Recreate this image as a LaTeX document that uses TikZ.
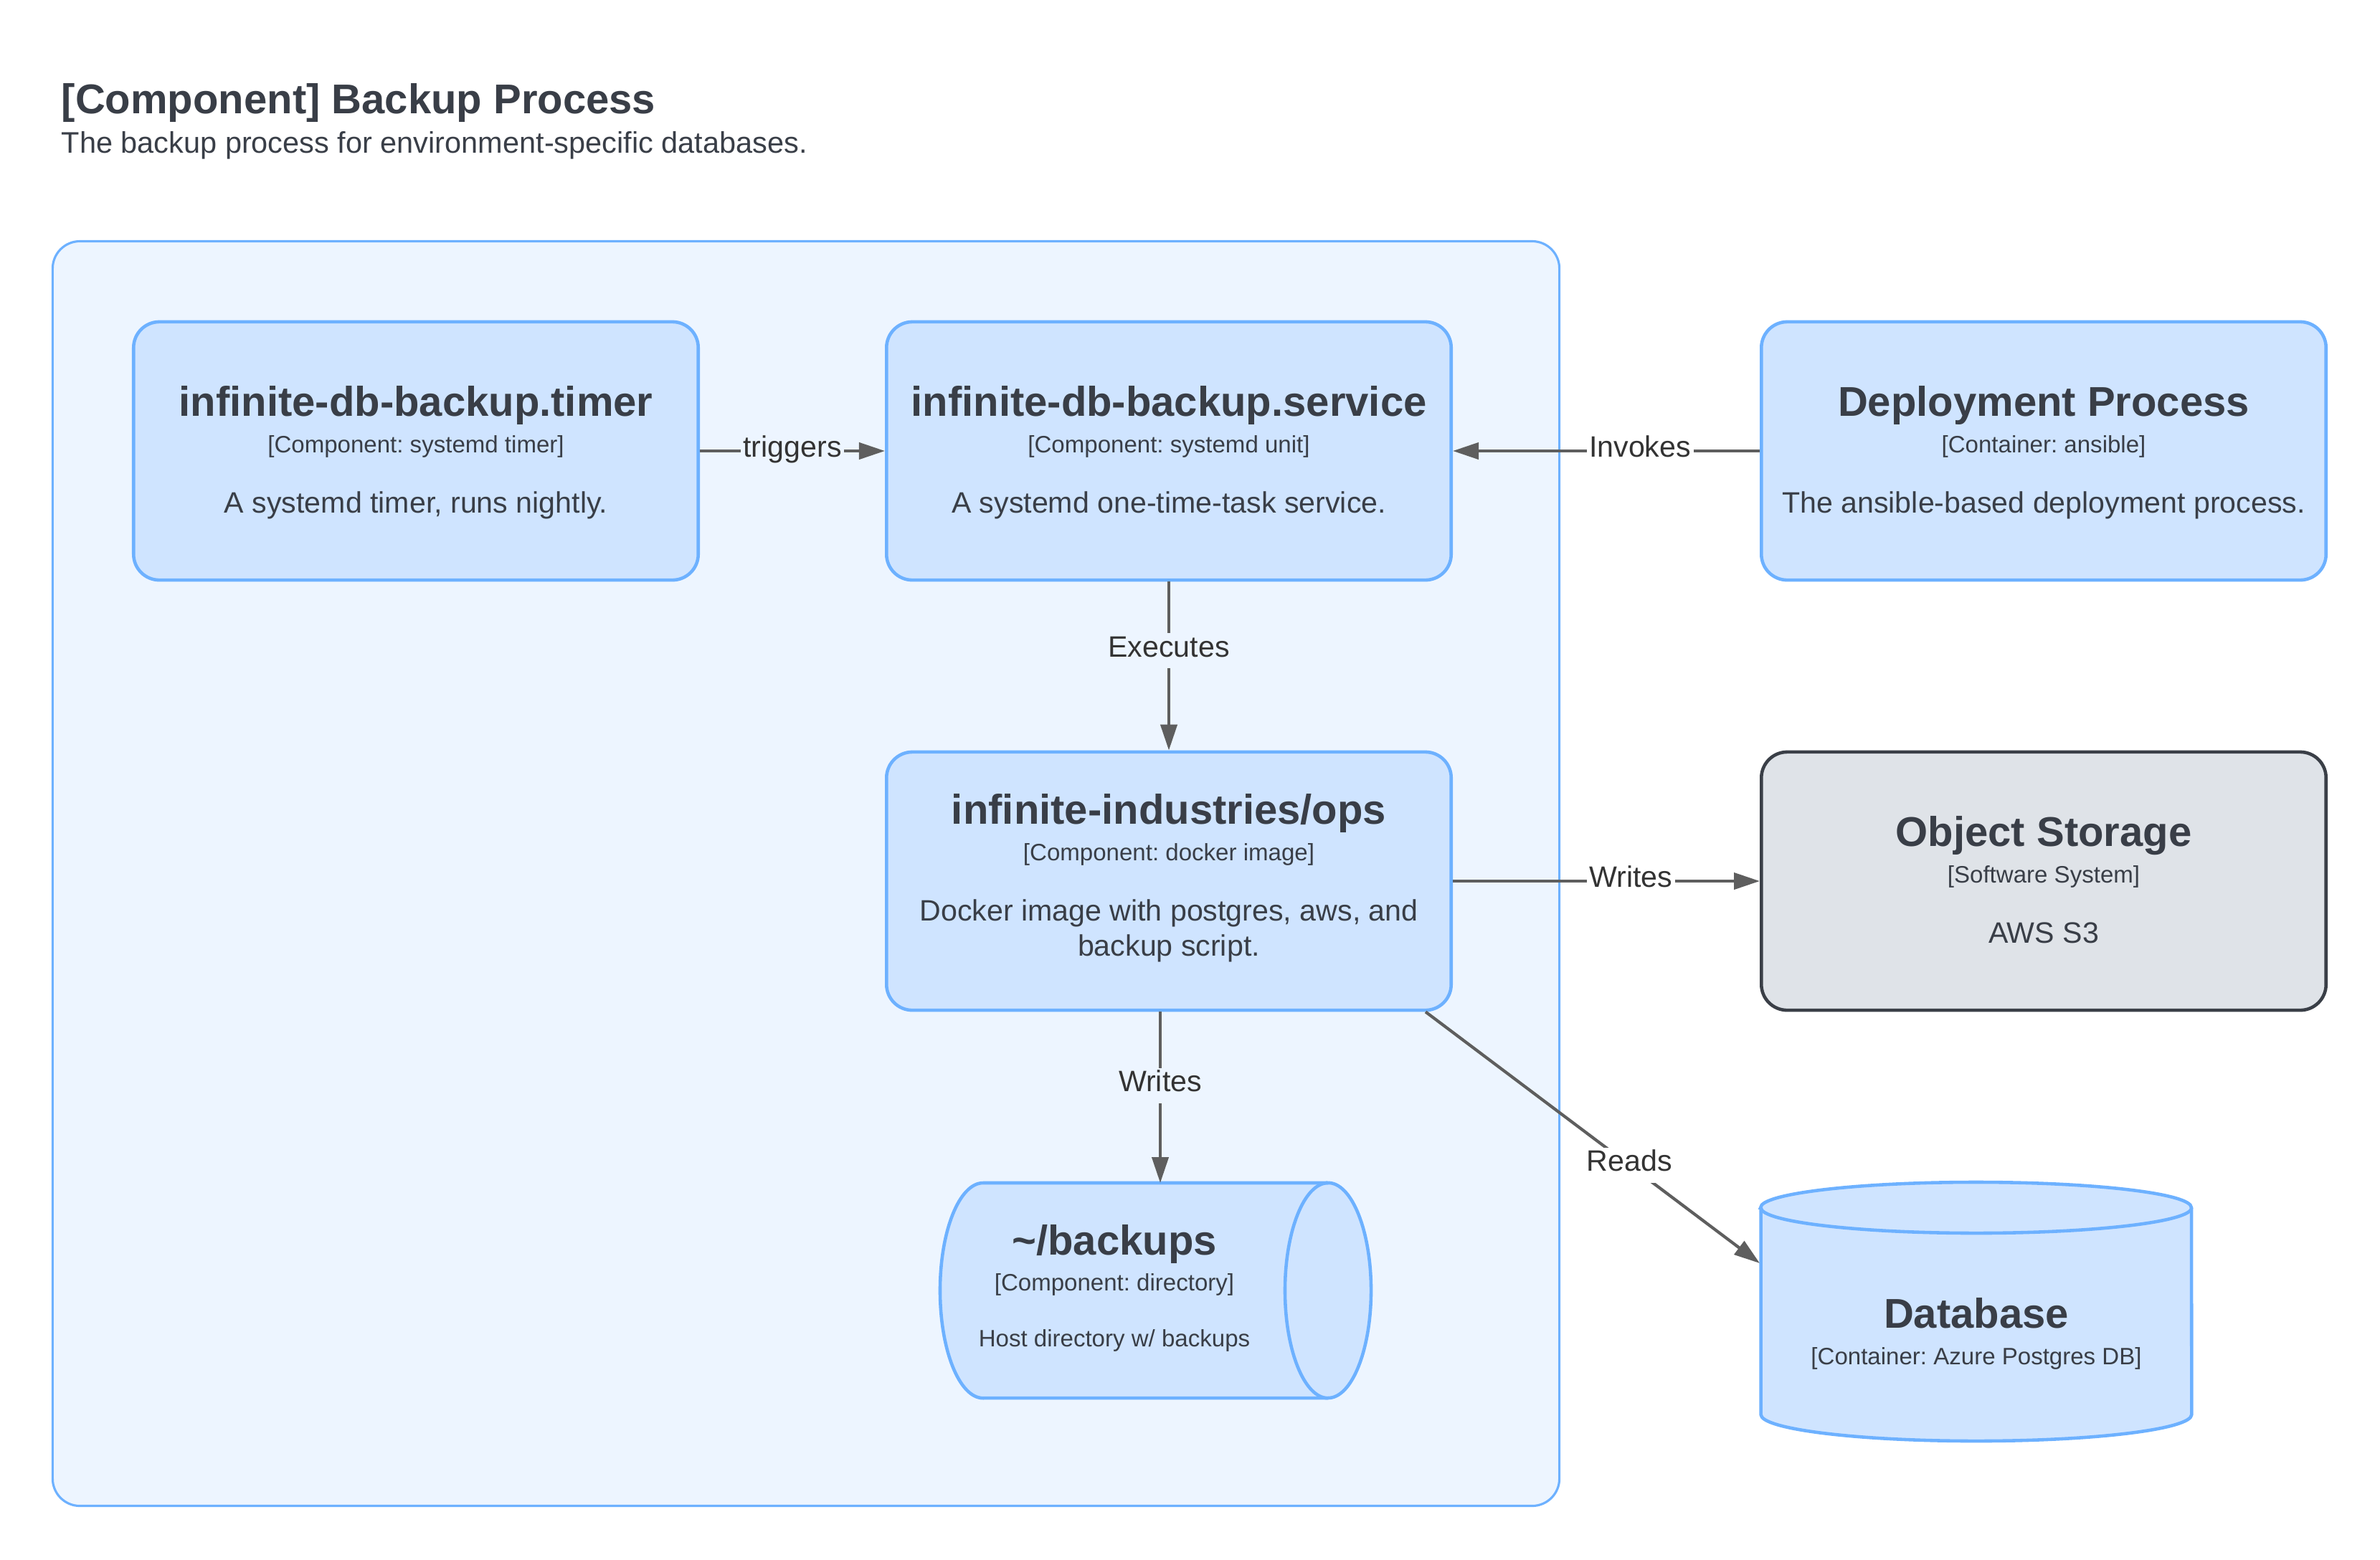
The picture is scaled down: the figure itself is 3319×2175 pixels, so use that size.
\documentclass[tikz,border=0pt]{standalone}
\usepackage{fontspec}
\setmainfont{Liberation Sans}
\usetikzlibrary{arrows.meta,calc}
\frenchspacing
\definecolor{c4text}{RGB}{57,62,71}
\definecolor{c4line}{RGB}{94,94,94}
\definecolor{c4fill}{RGB}{207,228,255}
\definecolor{c4draw}{RGB}{109,177,255}
\definecolor{c4bg}{RGB}{237,245,255}
\definecolor{sysfill}{RGB}{223,227,232}
\definecolor{sysdraw}{RGB}{58,63,71}
\definecolor{lbltext}{RGB}{51,51,51}
\tikzset{
  cbox/.style={rectangle,rounded corners=0.36cm,draw=c4draw,fill=c4fill,line width=1.3pt,minimum width=7.87cm,minimum height=3.6cm,inner sep=0pt},
  sbox/.style={cbox,draw=sysdraw,fill=sysfill},
  cname/.style={anchor=base,text=c4text,font=\fontsize{16.5pt}{19pt}\selectfont\bfseries,inner sep=0pt},
  ctech/.style={anchor=base,text=c4text,font=\fontsize{9.4pt}{11pt}\selectfont,inner sep=0pt},
  cdesc/.style={anchor=base,text=c4text,font=\fontsize{11.7pt}{13.8pt}\selectfont,align=center,inner sep=0pt},
  cyl/.style={draw=c4draw,fill=c4fill,line width=1.3pt},
  rel/.style={draw=c4line,line width=1.2pt,-{Triangle[length=0.36cm,width=0.23cm]}},
  lbl/.style={text=lbltext,font=\fontsize{11.7pt}{13.8pt}\selectfont,fill=c4bg,inner xsep=1pt,inner ysep=0pt,text height=0.33cm,text depth=0.16cm}
}
% box + name, technology and description (#1 = extra description lines)
\newcommand{\cnode}[8][0]{\node[#2] (#5) at (#3,#4) {};
  \node[cname] (#5-name) at (#3,#4-49-31*#1) {#6};
  \node[ctech] (#5-tech) at (#3,#4+2-31*#1) {#7};
  \node[cdesc] (#5-desc) at (#3,#4+86+18*#1) {#8};}

\begin{document}
\begin{tikzpicture}[x=0.01cm,y=-0.01cm]
	\useasboundingbox (0,0) rectangle (3319,2175);
	\node[anchor=base west,inner sep=0pt,text=c4text,font=\fontsize{16.5pt}{19pt}\selectfont\bfseries] (title) at (85,158) {[Component] Backup Process};
	\node[anchor=base west,inner sep=0pt,text=c4text,font=\fontsize{11.8pt}{14pt}\selectfont] (subtitle) at (85,213) {The backup process for environment-specific databases.};
	% system boundary
	\node[rectangle,rounded corners=0.38cm,draw=c4draw,fill=c4bg,line width=0.9pt,minimum width=21cm,minimum height=17.63cm,inner sep=0pt] (sys) at (1124,1218.5) {};
	\cnode{cbox}{580}{629}{timer}{infinite-db-backup.timer}{[Component: systemd timer]}{A systemd timer, runs nightly.}
	\cnode{cbox}{1630}{629}{service}{infinite-db-backup.service}{[Component: systemd unit]}{A systemd one-time-task service.}
	\cnode{cbox}{2850}{629}{deploy}{Deployment Process}{[Container: ansible]}{The ansible-based deployment process.}
	\cnode[1]{cbox}{1630}{1229}{ops}{infinite-industries/ops}{[Component: docker image]}{Docker image with postgres, aws, and\\backup script.}
	\cnode{sbox}{2850}{1229}{store}{Object Storage}{[Software System]}{AWS S3}
	% backups directory
	\path[cyl] (1852,1650) -- (1371,1650) arc[start angle=90,end angle=270,x radius=0.6cm,y radius=1.5cm] -- (1852,1950) arc[start angle=-90,end angle=90,x radius=0.6cm,y radius=1.5cm] -- cycle;
	\draw[cyl,fill=none] (1852,1650) arc[start angle=90,end angle=270,x radius=0.6cm,y radius=1.5cm];
	\node[cname] (bkp-name) at (1554,1750) {\textasciitilde/backups};
	\node[ctech] (bkp-tech) at (1554,1800) {[Component: directory]};
	\node[ctech] (bkp-desc) at (1554,1878) {Host directory w/ backups};
	\coordinate (bkp-in) at (1618,1650);
	% database
	\path[cyl] (2455.5,1684.5) -- (2455.5,1973) arc[start angle=180,end angle=360,x radius=3.0025cm,y radius=0.37cm] -- (3056,1684.5) arc[start angle=0,end angle=180,x radius=3.0025cm,y radius=0.355cm] -- cycle;
	\draw[cyl,fill=none] (2455.5,1684.5) arc[start angle=180,end angle=360,x radius=3.0025cm,y radius=0.355cm];
	\node[cname] (db-name) at (2756,1852) {Database};
	\node[ctech] (db-tech) at (2756,1903) {[Container: Azure Postgres DB]};
	\coordinate (db-in) at (2454,1762);
	% relations
	\draw[rel] (timer) -- node[lbl] {triggers} (service);
	\draw[rel] (deploy) -- node[lbl,fill=white,pos=.39] {Invokes} (service);
	\draw[rel] (service) -- node[lbl,pos=.41] {Executes} (ops);
	\draw[rel] (ops) -- node[lbl,fill=white,pos=.58] {Writes} (store);
	\draw[rel] (ops.south -| bkp-in) -- node[lbl,pos=.43] {Writes} (bkp-in);
	\coordinate (ops-out) at ($(ops.south east)+(-38,0)$);
	\draw[rel] (ops-out) -- node[lbl,fill=white,pos=.61] {Reads} (db-in);
\end{tikzpicture}
\end{document}
